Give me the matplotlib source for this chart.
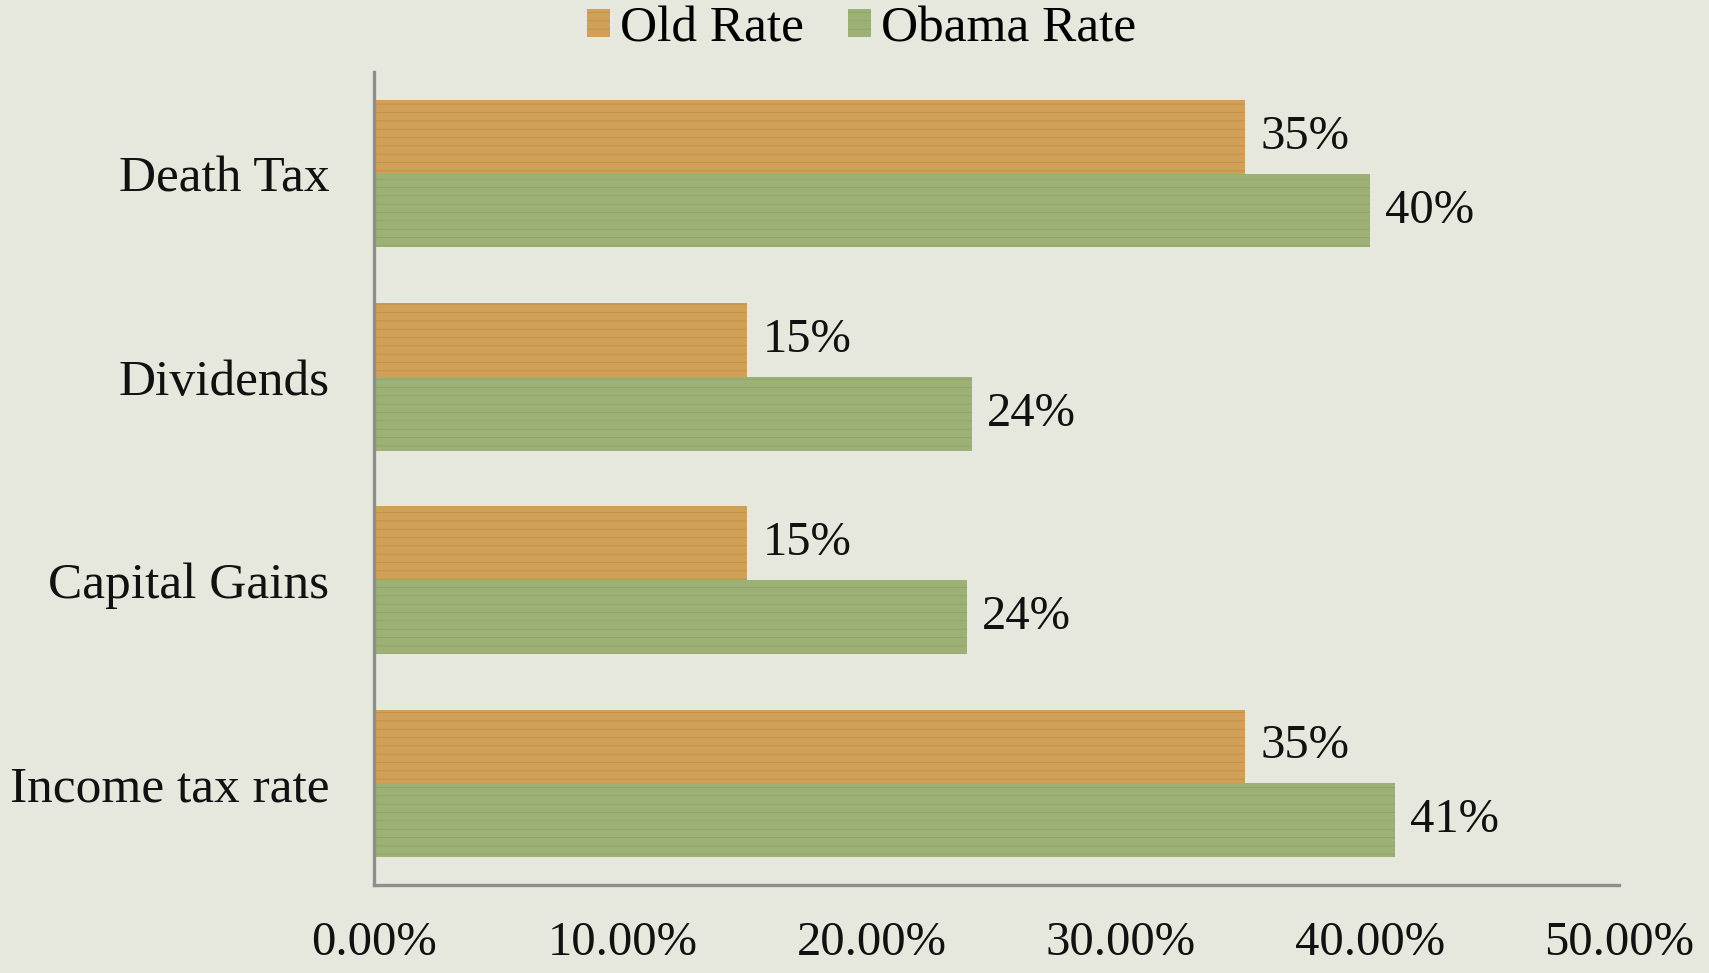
import numpy as np
import matplotlib.pyplot as plt
from matplotlib.ticker import FuncFormatter

# data (percent)
categories = ["Income tax rate", "Capital Gains", "Dividends", "Death Tax"]
old_rate = [35, 15, 15, 35]
obama_rate = [41, 23.8, 24, 40]
series_names = ["Old Rate", "Obama Rate"]

plt.rcParams['font.family'] = ['Liberation Serif', 'DejaVu Serif']
plt.rcParams['hatch.linewidth'] = 0.6

bg = '#e6e7dd'
fig = plt.figure(figsize=(17.09, 9.73), dpi=100, facecolor=bg)
ax = fig.add_axes([0.2188, 0.0905, 0.7285, 0.8355])
ax.set_facecolor(bg)

y = np.arange(len(categories))
h = 0.363
b1 = ax.barh(y + h / 2, old_rate, height=h, color='#d09f58', edgecolor='#c28f48',
             linewidth=0, hatch='--', label=series_names[0])
b2 = ax.barh(y - h / 2, obama_rate, height=h, color='#9db075', edgecolor='#8fa266',
             linewidth=0, hatch='--', label=series_names[1])

for bars in (b1, b2):
    ax.bar_label(bars, fmt='%.0f%%', padding=11, fontsize=35, color='#111111')

ax.set_xlim(0, 50)
ax.set_ylim(-0.5, len(categories) - 0.5)
ax.set_xticks([0, 10, 20, 30, 40, 50])
ax.xaxis.set_major_formatter(FuncFormatter(lambda v, p: '%.2f%%' % v))
ax.set_yticks(y)
ax.set_yticklabels(categories)
ax.tick_params(axis='x', length=0, pad=26, labelsize=35, labelcolor='#111111')
ax.tick_params(axis='y', length=0, pad=32, labelsize=37, labelcolor='#111111')

for s in ['top', 'right']:
    ax.spines[s].set_visible(False)
for s in ['left', 'bottom']:
    ax.spines[s].set_color('#8e8e8e')
    ax.spines[s].set_linewidth(2.4)

fig.legend(loc='center', bbox_to_anchor=(0.504, 0.97), ncol=2, frameon=False,
           fontsize=37, handlelength=0.45, handleheight=0.45, handletextpad=0.2,
           columnspacing=0.85)

fig.savefig('out.png', dpi=100, facecolor=bg)
